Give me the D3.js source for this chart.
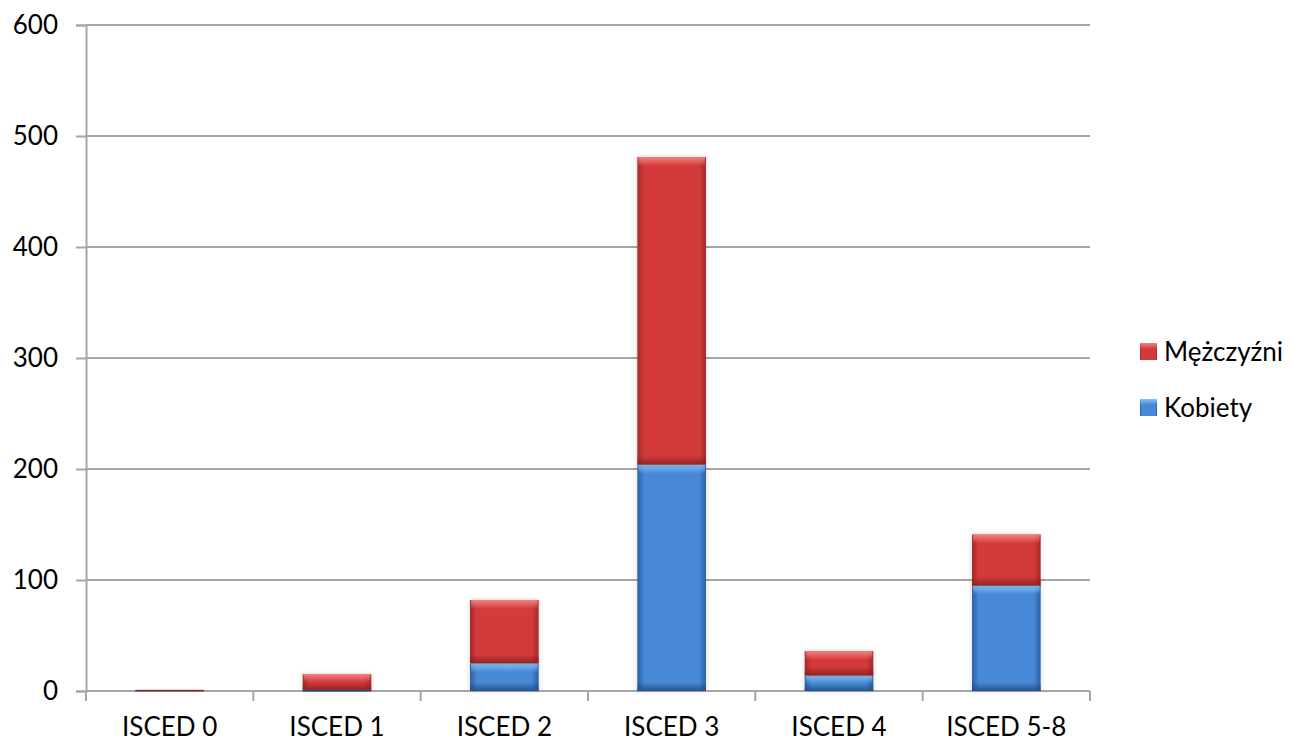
<!DOCTYPE html>
<html>
<head>
<meta charset="utf-8">
<script src="https://cdn.jsdelivr.net/npm/d3@7/dist/d3.min.js"></script>
<style>
  body { margin: 0; background: #fff; }
  svg { display: block; font-family: Lato, "Open Sans", sans-serif; }
</style>
</head>
<body>
<svg id="chart" width="1293" height="743"></svg>
<script>
// Education level categories (ISCED) and counts by sex
const categories = ["ISCED 0", "ISCED 1", "ISCED 2", "ISCED 3", "ISCED 4", "ISCED 5-8"];
const kobiety    = [0, 1, 25, 204, 14, 95];
const mezczyzni  = [1, 14, 57, 277, 22, 46];
const yTicks     = [0, 100, 200, 300, 400, 500, 600];
const seriesNames = ["Kobiety", "Mężczyźni"];

const svg = d3.select("#chart");
const margin = { left: 86, right: 203, top: 25, bottom: 52 };
const W = 1293, H = 743;
const FONT = 26;

const x = d3.scaleBand().domain(categories)
  .range([margin.left, W - margin.right]).paddingInner(0.59).paddingOuter(0.295);
const y = d3.scaleLinear().domain([0, 600]).range([H - margin.bottom, margin.top]);

// Gradients giving the bars a bevelled look
const defs = svg.append("defs");
const palettes = {
  Kobiety:   { edge: "#2a5fa2", mid: "#4689d6", light: "#86c0f5", dark: "#1f4a85" },
  "Mężczyźni": { edge: "#a32828", mid: "#d33b3b", light: "#f58080", dark: "#862020" }
};
Object.entries(palettes).forEach(([name, p], i) => {
  const id = "g" + i;
  const gh = defs.append("linearGradient").attr("id", id + "h").attr("x1", 0).attr("x2", 1).attr("y1", 0).attr("y2", 0);
  gh.append("stop").attr("offset", "0%").attr("stop-color", p.edge);
  gh.append("stop").attr("offset", "10%").attr("stop-color", p.mid);
  gh.append("stop").attr("offset", "90%").attr("stop-color", p.mid);
  gh.append("stop").attr("offset", "100%").attr("stop-color", p.edge);
  const gt = defs.append("linearGradient").attr("id", id + "t").attr("x1", 0).attr("x2", 0).attr("y1", 0).attr("y2", 1);
  gt.append("stop").attr("offset", "0%").attr("stop-color", p.light).attr("stop-opacity", 1);
  gt.append("stop").attr("offset", "100%").attr("stop-color", p.light).attr("stop-opacity", 0);
  const gb = defs.append("linearGradient").attr("id", id + "b").attr("x1", 0).attr("x2", 0).attr("y1", 0).attr("y2", 1);
  gb.append("stop").attr("offset", "0%").attr("stop-color", p.dark).attr("stop-opacity", 0);
  gb.append("stop").attr("offset", "100%").attr("stop-color", p.dark).attr("stop-opacity", 0.85);
  palettes[name].id = id;
});
const shadow = defs.append("filter").attr("id", "shadow").attr("x", "-20%").attr("y", "-20%").attr("width", "140%").attr("height", "140%");
shadow.append("feDropShadow").attr("dx", 0).attr("dy", 0).attr("stdDeviation", 2.5).attr("flood-color", "#000").attr("flood-opacity", 0.18);

// Gridlines
svg.append("g").selectAll("line").data(yTicks.filter(d => d > 0)).join("line")
  .attr("x1", margin.left).attr("x2", W - margin.right)
  .attr("y1", d => y(d)).attr("y2", d => y(d))
  .attr("stroke", "#a6a6a6").attr("stroke-width", 2);

// Y axis
const yAxis = svg.append("g").attr("transform", `translate(${margin.left},0)`)
  .call(d3.axisLeft(y).tickValues(yTicks).tickSize(10).tickPadding(18).tickFormat(d3.format("d")));
yAxis.select(".domain").attr("stroke", "#a6a6a6").attr("stroke-width", 2);
yAxis.selectAll(".tick line").attr("stroke", "#a6a6a6").attr("stroke-width", 2);
yAxis.selectAll("text").attr("font-size", FONT).attr("fill", "#000").attr("font-family", "Lato, sans-serif");

// X axis baseline and ticks at category boundaries
const xAxisY = y(0);
svg.append("line").attr("x1", margin.left).attr("x2", W - margin.right)
  .attr("y1", xAxisY).attr("y2", xAxisY).attr("stroke", "#a6a6a6").attr("stroke-width", 2);
const step = x.step();
svg.append("g").selectAll("line").data(d3.range(categories.length + 1)).join("line")
  .attr("x1", i => margin.left + i * step).attr("x2", i => margin.left + i * step)
  .attr("y1", xAxisY).attr("y2", xAxisY + 10).attr("stroke", "#a6a6a6").attr("stroke-width", 2);
svg.append("g").selectAll("text").data(categories).join("text")
  .attr("x", d => x(d) + x.bandwidth() / 2).attr("y", 736)
  .attr("text-anchor", "middle").attr("font-size", FONT).attr("fill", "#000").text(d => d);

// Stacked bars
const stacked = d3.stack().keys(seriesNames)(categories.map((c, i) => ({
  cat: c, "Kobiety": kobiety[i], "Mężczyźni": mezczyzni[i]
})));

const barsG = svg.append("g");
stacked.forEach(layer => {
  const p = palettes[layer.key];
  layer.forEach(seg => {
    const x0 = x(seg.data.cat), bw = x.bandwidth();
    const y1 = y(seg[1]), y0 = y(seg[0]);
    const h = Math.max(y0 - y1, 0);
    if (h <= 0) return;
    const g = barsG.append("g");
    g.append("rect").attr("x", x0).attr("y", y1).attr("width", bw).attr("height", Math.max(h, 1.5))
      .attr("fill", h < 3 ? p.dark : `url(#${p.id}h)`).attr("filter", "url(#shadow)");
    if (h < 3) return;
    const bev = Math.min(9, h / 2);
    g.append("rect").attr("x", x0 + 1).attr("y", y1).attr("width", bw - 2).attr("height", bev)
      .attr("fill", `url(#${p.id}t)`);
    g.append("rect").attr("x", x0).attr("y", y0 - bev).attr("width", bw).attr("height", bev)
      .attr("fill", `url(#${p.id}b)`);
  });
});

// Legend
const legendItems = [...seriesNames].reverse();
const lg = svg.append("g").selectAll("g").data(legendItems).join("g")
  .attr("transform", (d, i) => `translate(1140, ${352 + i * 56})`);
lg.append("rect").attr("x", 0).attr("y", -9).attr("width", 17).attr("height", 17)
  .attr("fill", d => `url(#${palettes[d].id}h)`);
lg.append("rect").attr("x", 0).attr("y", -9).attr("width", 17).attr("height", 6)
  .attr("fill", d => `url(#${palettes[d].id}t)`);
lg.append("text").attr("x", 24).attr("y", 9).attr("font-size", FONT).attr("fill", "#000").text(d => d);
</script>
</body>
</html>
